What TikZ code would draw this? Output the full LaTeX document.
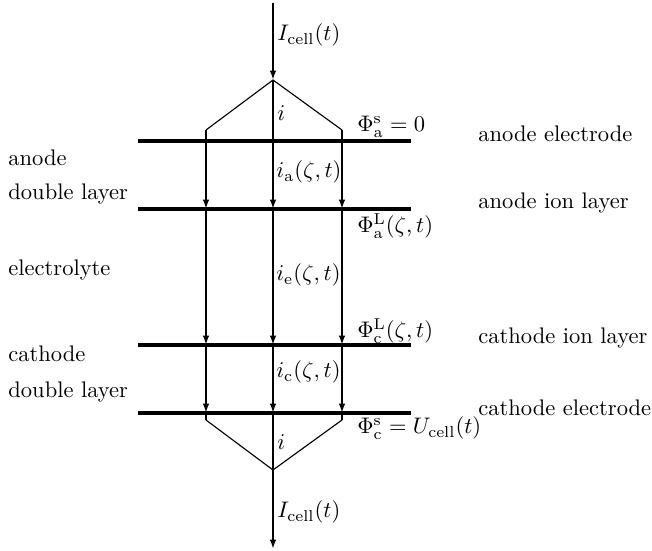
\documentclass[tikz,border=0pt]{standalone}
\usetikzlibrary{arrows.meta}
\begin{document}
\begin{tikzpicture}[x=0.444pt,y=-0.444pt,
  layer/.style={line width=1.5pt},
  flow/.style={line width=1pt,-{Latex[length=4.2pt,width=3pt]}},
  wire/.style={line width=1pt},
  split/.style={line width=0.5pt},
  lbl/.style={anchor=west,inner sep=0pt}]
\useasboundingbox (0,0) rectangle (652,551);
% horizontal layers
\coordinate (aL) at (138,141); \coordinate (aR) at (411,141);
\coordinate (bL) at (138,209); \coordinate (bR) at (411,209);
\coordinate (cL) at (138,345); \coordinate (cR) at (411,345);
\coordinate (dL) at (138,413); \coordinate (dR) at (411,413);
\draw[layer] (aL) -- (aR);
\draw[layer] (bL) -- (bR);
\draw[layer] (cL) -- (cR);
\draw[layer] (dL) -- (dR);
% key points
\coordinate (top) at (273,3);
\coordinate (apexT) at (273,80);
\coordinate (apexB) at (273,470);
\coordinate (bot) at (273,549);
\coordinate (lT) at (206,130); \coordinate (rT) at (342,130);
\coordinate (lB) at (206,420); \coordinate (rB) at (342,420);
\foreach \x/\n in {206/l,273/m,342/r}{
  \coordinate (\n1) at (\x,209);
  \coordinate (\n2) at (\x,345);
  \coordinate (\n3) at (\x,413);
}
% incoming
\draw[flow] (top) -- (apexT);
\draw[split] (lT) -- (apexT) -- (rT);
% verticals
\draw[flow] (lT) -- (l1); \draw[flow] (l1) -- (l2); \draw[flow] (l2) -- (l3);
\draw[flow] (rT) -- (r1); \draw[flow] (r1) -- (r2); \draw[flow] (r2) -- (r3);
\draw[flow] (apexT) -- (m1); \draw[flow] (m1) -- (m2); \draw[flow] (m2) -- (m3);
\draw[wire] (l3) -- (lB); \draw[wire] (r3) -- (rB); \draw[wire] (m3) -- (apexB);
\draw[split] (lB) -- (apexB) -- (rB);
\draw[flow] (apexB) -- (bot);
% centre labels
\node[lbl] (Itop) at (277,35) {$I_{\mathrm{cell}}(t)$};
\node[lbl] (itop) at (277,113) {$i$};
\node[lbl] (ia) at (276,172) {$i_{\mathrm{a}}(\zeta,t)$};
\node[lbl] (ie) at (276,275) {$i_{\mathrm{e}}(\zeta,t)$};
\node[lbl] (ic) at (276,372) {$i_{\mathrm{c}}(\zeta,t)$};
\node[lbl] (ibot) at (277,442) {$i$};
\node[lbl] (Ibot) at (277,512) {$I_{\mathrm{cell}}(t)$};
% potentials
\node[lbl] (pas) at (357,127) {$\Phi^{\mathrm{s}}_{\mathrm{a}}=0$};
\node[lbl] (paL) at (357,226) {$\Phi^{\mathrm{L}}_{\mathrm{a}}(\zeta,t)$};
\node[lbl] (pcL) at (357,331) {$\Phi^{\mathrm{L}}_{\mathrm{c}}(\zeta,t)$};
\node[lbl] (pcs) at (357,428) {$\Phi^{\mathrm{s}}_{\mathrm{c}}=U_{\mathrm{cell}}(t)$};
% right labels
\node[lbl] (r1t) at (478,134) {anode electrode};
\node[lbl] (r2t) at (478,203) {anode ion layer};
\node[lbl] (r3t) at (478,338) {cathode ion layer};
\node[lbl] (r4t) at (478,408) {cathode electrode};
% left labels
\node[lbl] (l1t) at (8,158) {anode};
\node[lbl] (l2t) at (8,194) {double layer};
\node[lbl] (l3t) at (8,270) {electrolyte};
\node[lbl] (l4t) at (8,354) {cathode};
\node[lbl] (l5t) at (8,392) {double layer};
\end{tikzpicture}
\end{document}
